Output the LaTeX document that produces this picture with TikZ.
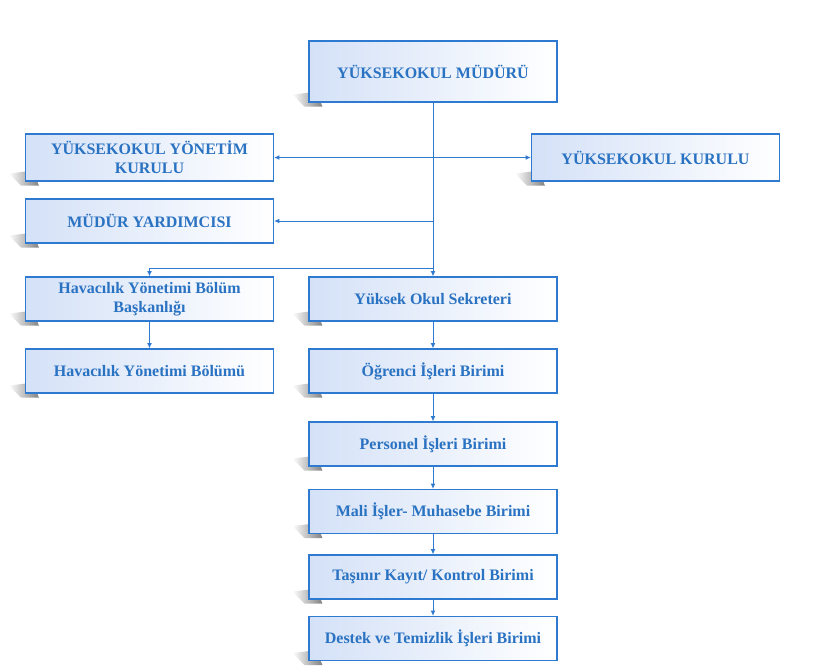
\documentclass[tikz,border=0pt]{standalone}
\usepackage{fontspec}
\setmainfont{Liberation Serif}
\usetikzlibrary{arrows.meta,backgrounds,fadings}

\definecolor{kenarmavi}{HTML}{2E7AD0}
\definecolor{yazimavi}{HTML}{2A72C2}
\definecolor{dolgumavi}{HTML}{D4E1F7}
\definecolor{golgegri}{HTML}{6A6A6A}

\tikzset{
  kutu/.style={draw=kenarmavi, line width=0.9pt, left color=dolgumavi, right color=white,
    text=yazimavi, font=\fontsize{12}{14.5}\selectfont\bfseries, align=center,
    minimum width=186pt, minimum height=33pt, inner sep=2pt},
  baglanti/.style={draw=kenarmavi, line width=0.75pt, -{Latex[length=4pt,width=3.6pt]}},
  golge/.style={fill=golgegri, path fading=west, fill opacity=0.85}
}

\begin{document}
\begin{tikzpicture}[x=0.75pt,y=0.75pt,yscale=-1]
\useasboundingbox (0,0) rectangle (819,669);

%Shape: Rectangle [id:mudur]
\node[kutu, minimum height=45.75pt] (mudur) at (433,71.5) {YÜKSEKOKUL MÜDÜRÜ};
%Shape: Rectangle [id:ykurul]
\node[kutu, minimum height=35.25pt] (ykurul) at (149.5,157.5) {YÜKSEKOKUL YÖNETİM\\KURULU};
%Shape: Rectangle [id:kurul]
\node[kutu, minimum height=35.25pt] (kurul) at (655.5,157.5) {YÜKSEKOKUL KURULU};
%Shape: Rectangle [id:yard]
\node[kutu] (yard) at (149.5,221) {MÜDÜR YARDIMCISI};
%Shape: Rectangle [id:bolbask]
\node[kutu] (bolbask) at (149.5,299) {Havacılık Yönetimi Bölüm\\Başkanlığı};
%Shape: Rectangle [id:bolum]
\node[kutu] (bolum) at (149.5,371) {Havacılık Yönetimi Bölümü};
%Shape: Rectangle [id:sekreter]
\node[kutu] (sekreter) at (433,299) {Yüksek Okul Sekreteri};
%Shape: Rectangle [id:ogrenci]
\node[kutu] (ogrenci) at (433,371) {Öğrenci İşleri Birimi};
%Shape: Rectangle [id:personel]
\node[kutu] (personel) at (433,444) {Personel İşleri Birimi};
%Shape: Rectangle [id:mali]
\node[kutu] (mali) at (433,511.5) {Mali İşler- Muhasebe Birimi};
%Shape: Rectangle [id:tasinir]
\node[kutu] (tasinir) at (433,577) {Taşınır Kayıt/ Kontrol Birimi};
%Shape: Rectangle [id:destek]
\node[kutu] (destek) at (433,638.5) {Destek ve Temizlik İşleri Birimi};

%Shadows
\begin{scope}[on background layer]
\foreach \n in {mudur,ykurul,kurul,yard,bolbask,bolum,sekreter,ogrenci,personel,mali,tasinir,destek}
  \fill[golge] ([shift={(-16,-8)}]\n.south west) -- ([shift={(8,-11)}]\n.south west)
    -- ([shift={(14,4)}]\n.south west) -- ([shift={(-4,4)}]\n.south west) -- cycle;
\end{scope}

\coordinate (dal) at (433,268);

%Straight Lines [id:ana]
\draw[baglanti] (mudur.south) -- (sekreter.north);
%Straight Lines [id:kurullar]
\draw[baglanti, {Latex[length=4pt,width=3.6pt]}-{Latex[length=4pt,width=3.6pt]}] (ykurul.east) -- (kurul.west);
%Straight Lines [id:yard]
\draw[baglanti] (mudur.south |- yard.east) -- (yard.east);
%Straight Lines [id:bolum]
\draw[baglanti] (dal) -| (bolbask.north);
\draw[baglanti] (bolbask.south) -- (bolum.north);
%Straight Lines [id:birimler]
\draw[baglanti] (sekreter.south) -- (ogrenci.north);
\draw[baglanti] (ogrenci.south) -- (personel.north);
\draw[baglanti] (personel.south) -- (mali.north);
\draw[baglanti] (mali.south) -- (tasinir.north);
\draw[baglanti] (tasinir.south) -- (destek.north);

\end{tikzpicture}
\end{document}
